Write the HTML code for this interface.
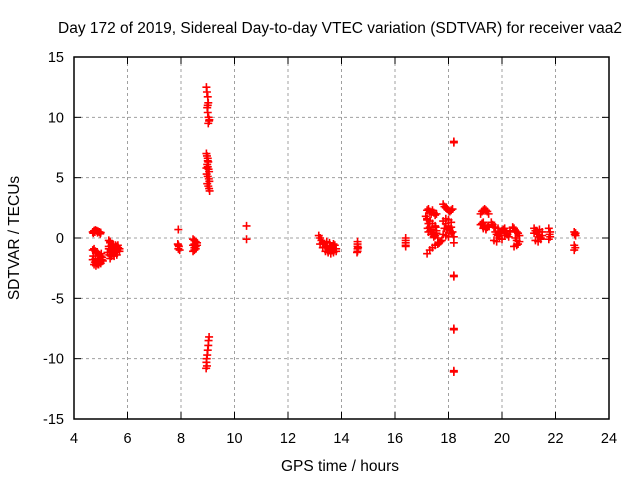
<!DOCTYPE html>
<html><head><meta charset="utf-8"><style>
body{margin:0;background:#fff;}
svg{display:block;font-family:"Liberation Sans",sans-serif;}
</style></head><body>
<svg id="chart" width="640" height="480">
<text x="340" y="33" font-size="15.5" text-anchor="middle">Day 172 of 2019, Sidereal Day-to-day VTEC variation (SDTVAR) for receiver vaa2</text>
<g id="grid"></g>
<g id="axes"></g>
<g id="points"></g>
<text x="340" y="471" font-size="15.5" text-anchor="middle">GPS time / hours</text>
<text transform="translate(19,238) rotate(-90)" font-size="15.5" text-anchor="middle">SDTVAR / TECUs</text>
</svg>
<script>
const xTicks=[4,6,8,10,12,14,16,18,20,22,24];
const yTicks=[-15,-10,-5,0,5,10,15];
const ptX=[4.7,4.75,4.8,4.85,4.9,4.95,5.0,4.72,4.78,4.88,4.98,
4.7,4.75,4.8,4.85,4.9,4.95,5.0,5.05,4.7,4.78,4.85,4.92,5.0,5.08,4.72,4.8,4.88,4.96,5.04,4.75,4.82,4.9,4.98,5.02,
5.3,5.35,5.4,5.45,5.5,5.55,5.6,5.65,5.7,5.3,5.38,5.46,5.54,5.62,5.7,5.32,5.4,5.48,5.56,5.64,5.35,5.45,5.55,5.3,5.4,5.5,5.6,5.25,5.35,5.45,
7.9,7.88,7.92,7.9,7.95,7.9,
8.45,8.5,8.55,8.6,8.5,8.45,8.55,8.5,8.6,8.5,8.45,8.55,
8.95,8.97,9.0,9.02,8.98,9.0,9.03,9.05,9.02,9.06,9.0,
8.95,8.97,9.0,9.02,8.98,9.0,9.03,9.05,8.96,9.0,9.04,9.06,8.98,9.02,9.05,9.07,8.95,9.0,
9.05,9.03,9.02,9.0,8.98,8.96,8.95,8.97,8.94,
10.45,10.45,
13.15,13.2,13.25,13.3,13.35,13.4,13.45,13.5,13.55,13.6,13.65,13.7,13.75,13.8,13.2,13.3,13.4,13.5,13.6,13.7,13.8,13.45,13.55,13.65,
14.6,14.6,14.6,14.6,14.6,14.58,14.62,
16.4,16.4,16.4,16.4,16.4,
17.2,17.25,17.3,17.35,17.4,17.45,17.5,17.55,17.2,17.3,17.4,17.5,17.22,17.32,17.42,17.52,17.25,17.35,17.45,17.55,17.2,17.3,17.4,17.5,17.6,17.65,17.7,17.75,
17.15,17.2,17.25,17.3,17.35,17.4,17.45,17.5,17.55,17.6,
17.8,17.85,17.9,17.95,18.0,18.05,18.1,18.15,17.8,17.9,18.0,18.1,17.85,17.95,18.05,18.15,17.8,17.9,18.0,18.1,18.2,18.2,17.9,18.0,18.1,
18.2,18.2,18.2,18.2,18.2,18.2,18.2,18.2,
19.2,19.25,19.3,19.35,19.4,19.45,19.5,19.25,19.35,19.45,19.2,19.3,19.4,19.5,19.3,19.4,
19.6,19.65,19.7,19.75,19.8,19.85,19.9,19.95,20.0,20.05,20.1,20.15,20.2,20.25,20.3,19.7,19.8,19.9,20.0,20.1,20.2,20.3,19.75,19.85,19.95,20.05,20.4,20.45,20.5,20.55,20.6,20.65,20.5,20.55,20.6,20.45,20.55,20.65,
21.2,21.25,21.3,21.35,21.4,21.45,21.5,21.25,21.35,21.45,21.2,21.3,21.4,21.5,21.75,21.8,21.8,21.75,21.78,
22.7,22.72,22.75,22.7,22.74,22.7,22.75];
const ptY=[0.5,0.6,0.65,0.6,0.55,0.5,0.45,0.4,0.5,0.45,0.35,
-1.0,-0.9,-1.1,-1.2,-1.3,-1.4,-1.5,-1.6,-1.8,-2.0,-2.1,-2.2,-2.1,-1.9,-1.5,-1.7,-1.9,-2.0,-1.8,-2.2,-2.3,-2.2,-2.0,-1.3,
-0.2,-0.4,-0.6,-0.8,-1.0,-0.9,-0.7,-0.8,-0.9,-0.9,-1.1,-1.3,-1.2,-1.0,-1.1,-1.4,-1.5,-1.3,-1.1,-0.6,-0.3,-0.5,-0.6,-0.7,-1.2,-1.5,-1.4,-1.2,-1.7,-1.0,
0.7,-0.5,-0.7,-0.9,-1.0,-0.6,
-0.1,-0.2,-0.3,-0.4,-0.5,-0.6,-0.7,-0.8,-0.6,-1.0,-1.1,-0.9,
12.5,12.1,11.7,11.2,10.8,10.4,10.0,9.7,9.5,9.8,11.0,
7.0,6.8,6.6,6.3,6.1,5.9,5.7,5.5,5.3,5.1,4.9,4.7,4.5,4.3,4.1,3.9,5.8,6.4,
-8.2,-8.5,-8.9,-9.3,-9.7,-10.0,-10.3,-10.6,-10.8,
1.0,-0.1,
0.2,0.0,-0.2,-0.4,-0.5,-0.7,-0.8,-0.9,-1.0,-0.8,-0.7,-0.5,-0.6,-0.9,-0.5,-0.8,-1.1,-1.2,-1.3,-1.2,-1.1,-0.3,-0.4,-1.0,
-0.3,-0.5,-0.7,-0.9,-1.1,-1.2,-0.8,
0.0,-0.2,-0.4,-0.6,-0.7,
2.3,2.4,2.2,2.0,2.3,2.1,1.9,2.0,1.6,1.4,1.2,1.0,0.8,0.6,0.7,0.9,0.5,0.3,0.4,0.6,-1.3,-1.0,-0.8,-0.6,-0.5,-0.4,-0.3,-0.2,
1.8,1.5,1.2,0.9,0.6,0.3,0.1,0.2,0.4,0.0,
2.8,2.6,2.5,2.4,2.3,2.2,2.3,2.4,1.4,1.2,1.0,0.9,0.8,0.7,0.6,0.5,0.3,0.2,0.1,0.4,0.1,-0.4,1.6,1.5,1.3,
8.0,7.9,-3.1,-3.2,-7.5,-7.6,-11.0,-11.1,
2.0,2.2,2.3,2.4,2.3,2.2,2.0,1.2,1.0,0.9,1.1,0.8,0.7,1.0,1.3,0.8,
1.3,1.1,0.9,0.5,0.3,0.2,0.4,0.5,0.6,0.7,0.8,0.5,0.3,0.1,0.5,-0.2,-0.3,0.0,-0.1,0.2,0.3,0.6,0.9,0.8,0.4,0.7,0.9,0.8,0.6,0.5,0.4,0.2,0.0,-0.2,-0.5,-0.7,-0.6,-0.3,
0.8,0.6,0.5,0.3,0.1,0.0,0.2,-0.2,-0.3,-0.1,0.4,0.6,0.7,0.5,0.8,0.5,0.1,-0.1,0.3,
0.5,0.3,0.2,-0.6,-0.8,-1.0,0.4];
const NS='http://www.w3.org/2000/svg';
const L=74,R=609,T=57,B=419;
function sx(v){return L+(v-4)/20*(R-L);}
function sy(v){return B-(v+15)/30*(B-T);}
function mk(tag,attrs,parent){const e=document.createElementNS(NS,tag);for(const k in attrs)e.setAttribute(k,attrs[k]);parent.appendChild(e);return e;}
const grid=document.getElementById('grid'),axes=document.getElementById('axes'),pts=document.getElementById('points');
xTicks.forEach(t=>{const x=sx(t);
 if(t>4&&t<24){const g=mk('line',{x1:x,x2:x,y1:T,y2:B,stroke:'#a0a0a0','stroke-dasharray':'3,3'},grid);
 
 }
 mk('line',{x1:x,x2:x,y1:B,y2:B-7,stroke:'#000'},axes);mk('line',{x1:x,x2:x,y1:T,y2:T+7,stroke:'#000'},axes);
 const lb=mk('text',{x:x,y:B+24,'font-size':'14.5','text-anchor':'middle'},axes);lb.textContent=t;
 
 });
yTicks.forEach(t=>{const y=sy(t);
 if(t>-15&&t<15){const g=mk('line',{x1:L,x2:R,y1:y,y2:y,stroke:'#a0a0a0','stroke-dasharray':'3,3'},grid);
 
 }
 mk('line',{x1:L,x2:L+7,y1:y,y2:y,stroke:'#000'},axes);mk('line',{x1:R,x2:R-7,y1:y,y2:y,stroke:'#000'},axes);
 const lb=mk('text',{x:L-10,y:y+5,'font-size':'14.5','text-anchor':'end'},axes);lb.textContent=t;
 
 });
mk('rect',{x:L,y:T,width:R-L,height:B-T,fill:'none',stroke:'#000','stroke-width':1.5},axes);
ptX.forEach((xv,i)=>{const x=sx(xv),y=sy(ptY[i]);
 const p=mk('path',{d:`M${x-4},${y}H${x+4}M${x},${y-4}V${y+4}`,stroke:'#f00','stroke-width':1.6},pts);
 
 });
</script>
</body></html>
